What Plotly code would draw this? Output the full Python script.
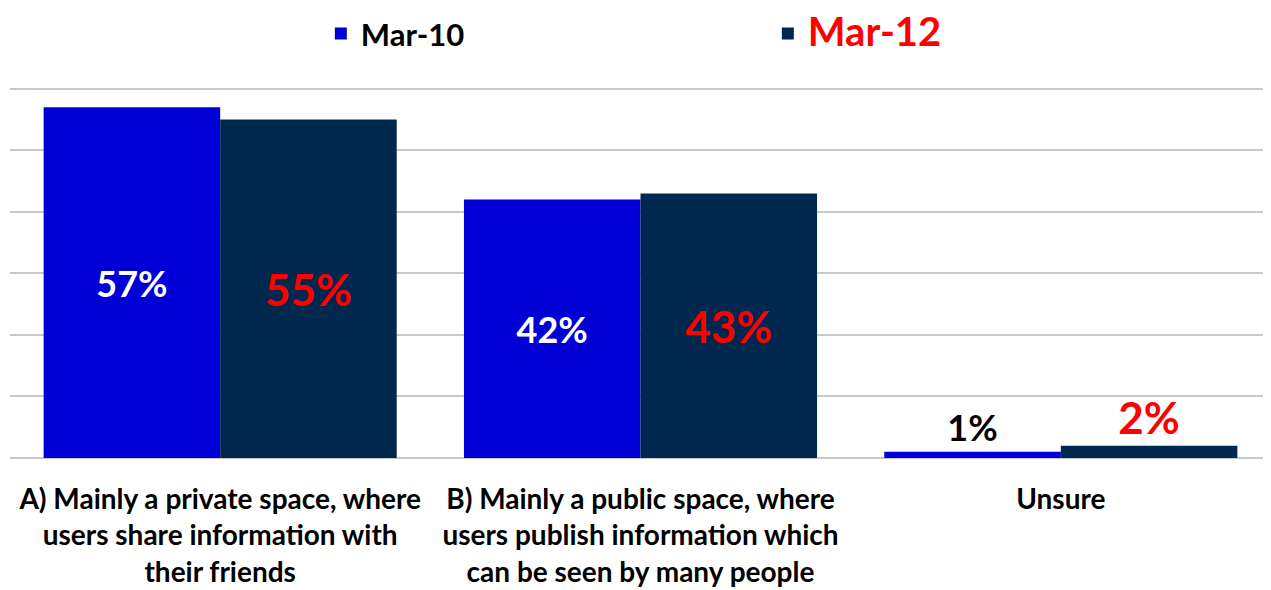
import plotly.graph_objects as go

categories = [
    "A) Mainly a private space, where<br>users share information with<br>their friends",
    "B) Mainly a public space, where<br>users publish information which<br>can be seen by many people",
    "Unsure",
]
series_names = ["Mar-10", "Mar-12"]
mar10_values = [57, 42, 1]
mar12_values = [55, 43, 2]
y_ticks = [0, 10, 20, 30, 40, 50, 60]

FONT = "Lato"

fig = go.Figure()
fig.add_trace(go.Bar(
    x=categories, y=mar10_values, name=series_names[0],
    marker=dict(color="#0000d6", line=dict(width=0)),
    texttemplate="%{y}%",
    textposition=["inside", "inside", "outside"],
    insidetextanchor="middle",
    insidetextfont=dict(family=FONT, size=36, color="white", weight=700),
    outsidetextfont=dict(family=FONT, size=36, color="black", weight=700),
    cliponaxis=False,
))
fig.add_trace(go.Bar(
    x=categories, y=mar12_values,
    name="<span style='color:#ff0000;font-size:40px'>" + series_names[1] + "</span>",
    marker=dict(color="#00284f", line=dict(width=0)),
    texttemplate="%{y}%",
    textposition=["inside", "inside", "outside"],
    insidetextanchor="middle",
    insidetextfont=dict(family=FONT, size=44, color="#ff0000", weight=700),
    outsidetextfont=dict(family=FONT, size=44, color="#ff0000", weight=700),
    cliponaxis=False,
))

fig.update_layout(
    width=1271, height=590,
    margin=dict(l=2, r=8, t=79, b=140, autoexpand=False),
    paper_bgcolor="white", plot_bgcolor="white",
    font=dict(family=FONT, size=31, color="black", weight=700),
    barmode="group", bargap=0.16, bargroupgap=0,
    showlegend=True,
    legend=dict(
        orientation="h", x=0.2465, xanchor="left", y=1.143, yanchor="middle",
        entrywidth=402, entrywidthmode="pixels",
        font=dict(family=FONT, size=31, color="black", weight=700),
        bgcolor="rgba(0,0,0,0)",
    ),
    xaxis=dict(
        showgrid=False, showline=False, ticks="",
        tickfont=dict(family=FONT, size=28, color="black", weight=700),
        ticklabelstandoff=22, automargin=False,
    ),
    yaxis=dict(
        range=[0, 60.3], tickvals=y_ticks, showticklabels=False,
        showgrid=True, gridcolor="#c8c8c8", gridwidth=2,
        zeroline=True, zerolinecolor="#c8c8c8", zerolinewidth=2,
        showline=False, ticks="", automargin=False,
    ),
)

fig.write_html("out.html")
